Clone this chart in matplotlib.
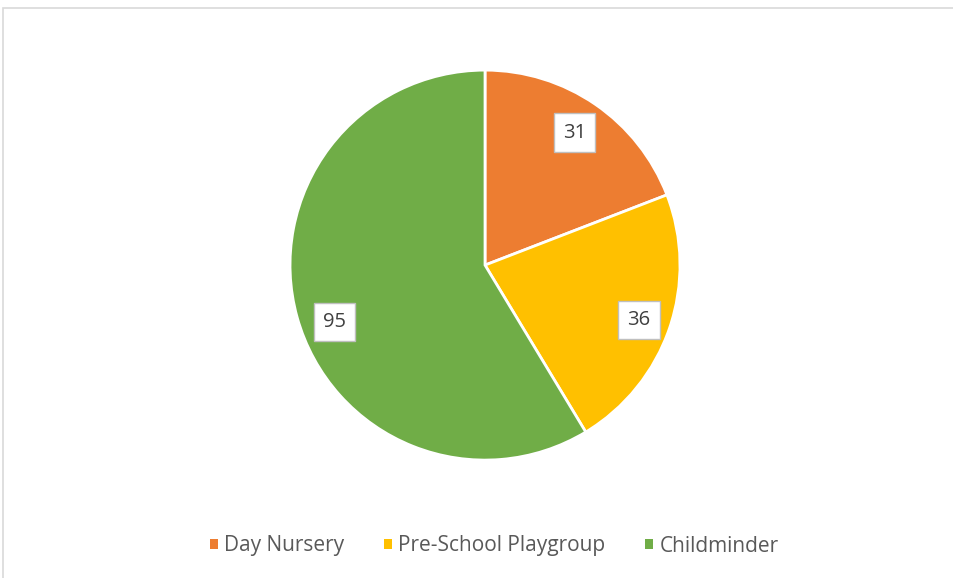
import matplotlib.pyplot as plt
from matplotlib.patches import Rectangle, Patch

plt.rcParams["font.family"] = ["Open Sans", "DejaVu Sans"]

# Data
providers = ["Day Nursery", "Pre-School Playgroup", "Childminder"]
counts = [31, 36, 95]
colors = ["#ED7D31", "#FFC000", "#70AD47"]

# where the data label boxes sit (pie radius units)
label_pos = [(0.46, 0.68), (0.79, -0.28), (-0.77, -0.29)]

fig = plt.figure(figsize=(9.54, 5.78), dpi=100)

# chart area border
fig.patches.append(Rectangle((3 / 954, -0.01), 1.0, 1 - 8 / 578 + 0.01,
                             transform=fig.transFigure, fill=False,
                             edgecolor="#D9D9D9", linewidth=1.2))

ax = fig.add_axes([0.304, 0.204, 0.4088, 0.6747])
wedges, texts = ax.pie(counts, colors=colors, startangle=90, counterclock=False,
                       labels=[str(c) for c in counts], labeldistance=0.82,
                       wedgeprops=dict(edgecolor="white", linewidth=2))
for t, pos in zip(texts, label_pos):
    t.set_position(pos)
    t.set_ha("center")
    t.set_va("center")
    t.set_fontsize(14.5)
    t.set_color("#404040")
    t.set_bbox(dict(boxstyle="square,pad=0.45", facecolor="white",
                    edgecolor="#BFBFBF", linewidth=1))
ax.set_xlim(-1, 1)
ax.set_ylim(-1, 1)
ax.set_aspect("equal")

handles = [Patch(facecolor=c, edgecolor="none") for c in colors]
fig.legend(handles, providers, loc="center", bbox_to_anchor=(0.518, 1 - 546 / 578),
           ncol=3, frameon=False, fontsize=15, labelcolor="#595959",
           handlelength=0.4, handleheight=0.4, handletextpad=0.3,
           columnspacing=1.9)

plt.savefig("out.png", dpi=100)
